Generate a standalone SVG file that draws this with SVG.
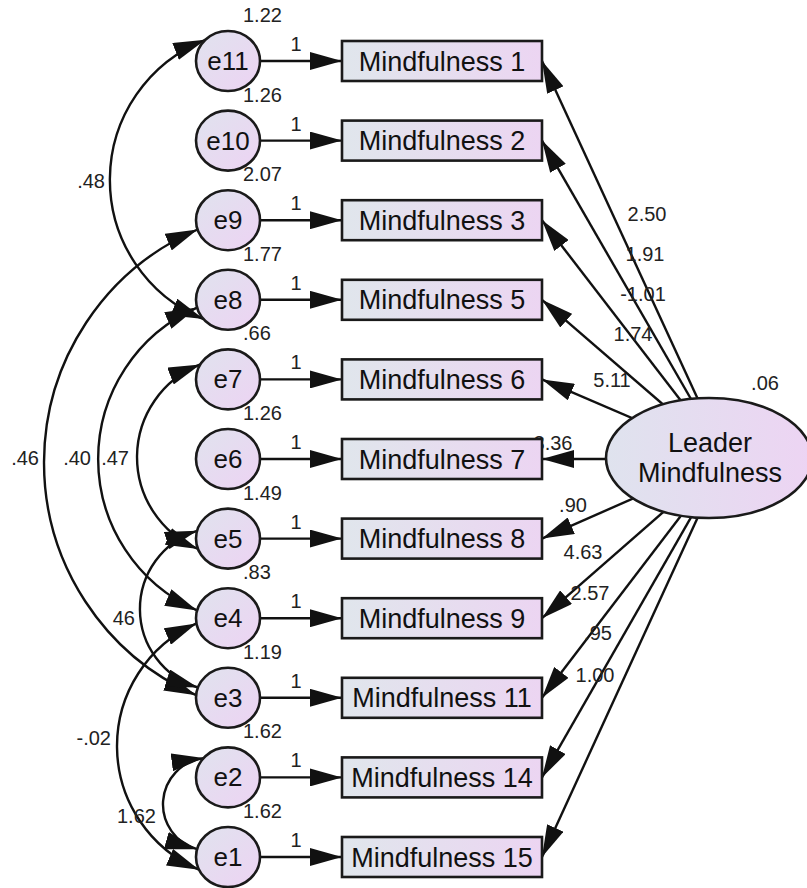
<svg xmlns="http://www.w3.org/2000/svg" width="807" height="888" viewBox="0 0 807 888">
<defs>
<linearGradient id="gr" x1="0" y1="0" x2="1" y2="0">
<stop offset="0" stop-color="#e0e6ec"/><stop offset="1" stop-color="#ecd5f2"/>
</linearGradient>
<linearGradient id="gc" x1="0" y1="0" x2="1" y2="1">
<stop offset="0" stop-color="#e0e3ee"/><stop offset="1" stop-color="#edd3f3"/>
</linearGradient>
<linearGradient id="ge" x1="0" y1="0" x2="1" y2="0">
<stop offset="0" stop-color="#dfe3ee"/><stop offset="1" stop-color="#edd4f3"/>
</linearGradient>
<marker id="ah" markerUnits="userSpaceOnUse" markerWidth="32" markerHeight="18" viewBox="0 0 32 18" refX="32" refY="9" orient="auto-start-reverse">
<path d="M0,0 L32,9 L0,18 Z" fill="#111"/>
</marker>
<style>
.r{fill:url(#gr);stroke:#1a1a1a;stroke-width:2.6}
.e{fill:url(#gc);stroke:#1a1a1a;stroke-width:2.6}
.lv{fill:url(#ge);stroke:#1a1a1a;stroke-width:2.6}
text{font-family:"Liberation Sans",Arial,Helvetica,sans-serif}
.lb{font-size:27px;text-anchor:middle;fill:#111}
.el{font-size:26px;text-anchor:middle;fill:#111}
.nm{font-size:20px;fill:#222}
.mid{text-anchor:middle}
.end{text-anchor:end}
.ln{fill:none;stroke:#111;stroke-width:2.4;marker-end:url(#ah)}
.cv{fill:none;stroke:#111;stroke-width:2.4;marker-start:url(#ah);marker-end:url(#ah)}
</style>
</defs>
<rect width="807" height="888" fill="#ffffff"/>

<g id="connectors">
<!-- error to indicator -->
<path class="ln" d="M260,61 L342,61"/>
<path class="ln" d="M260,140.6 L342,140.6"/>
<path class="ln" d="M260,220.2 L342,220.2"/>
<path class="ln" d="M260,299.8 L342,299.8"/>
<path class="ln" d="M260,379.4 L342,379.4"/>
<path class="ln" d="M260,459 L342,459"/>
<path class="ln" d="M260,538.6 L342,538.6"/>
<path class="ln" d="M260,618.2 L342,618.2"/>
<path class="ln" d="M260,697.8 L342,697.8"/>
<path class="ln" d="M260,777.4 L342,777.4"/>
<path class="ln" d="M260,857 L342,857"/>
<!-- loadings -->
<path class="ln" d="M725,458 L542,61"/>
<path class="ln" d="M725,458 L542,140.6"/>
<path class="ln" d="M725,458 L542,220.2"/>
<path class="ln" d="M725,458 L542,299.8"/>
<path class="ln" d="M725,458 L542,379.4"/>
<path class="ln" d="M725,459 L542,459"/>
<path class="ln" d="M725,458 L542,538.6"/>
<path class="ln" d="M725,458 L542,618.2"/>
<path class="ln" d="M725,458 L542,697.8"/>
<path class="ln" d="M725,458 L542,777.4"/>
<path class="ln" d="M725,458 L542,857"/>
<!-- covariances -->
<path class="cv" d="M205.4,39.8 A150.4,150.4 0 0 0 203.5,319.1"/>
<path class="cv" d="M197.6,229.5 A253.8,253.8 0 0 0 196.1,695.2"/>
<path class="cv" d="M197.1,307.6 A165.3,165.3 0 0 0 197.1,610.4"/>
<path class="cv" d="M200.3,364.4 A99.6,99.6 0 0 0 197.9,548.9"/>
<path class="cv" d="M197.1,530.8 A82.1,82.1 0 0 0 197.9,687.5"/>
<path class="cv" d="M196.5,623.4 A134.3,134.3 0 0 0 199,869.7"/>
<path class="cv" d="M203.5,758.1 A46.6,46.6 0 0 0 197.1,849.2"/>
<!-- labels: error paths -->
<text class="nm mid" x="296" y="51">1</text>
<text class="nm mid" x="296" y="130.6">1</text>
<text class="nm mid" x="296" y="210.2">1</text>
<text class="nm mid" x="296" y="289.8">1</text>
<text class="nm mid" x="296" y="369.4">1</text>
<text class="nm mid" x="296" y="449">1</text>
<text class="nm mid" x="296" y="528.6">1</text>
<text class="nm mid" x="296" y="608.2">1</text>
<text class="nm mid" x="296" y="687.8">1</text>
<text class="nm mid" x="296" y="767.4">1</text>
<text class="nm mid" x="296" y="847">1</text>
<!-- labels: loadings -->
<text class="nm mid" x="647" y="221">2.50</text>
<text class="nm mid" x="645" y="261">1.91</text>
<text class="nm mid" x="643" y="301">-1.01</text>
<text class="nm mid" x="633" y="341">1.74</text>
<text class="nm mid" x="612" y="387">5.11</text>
<text class="nm mid" x="553" y="450">3.36</text>
<text class="nm mid" x="573" y="512">.90</text>
<text class="nm mid" x="583" y="559">4.63</text>
<text class="nm mid" x="590" y="600">2.57</text>
<text class="nm mid" x="598" y="640">.95</text>
<text class="nm mid" x="595" y="682">1.00</text>
<!-- labels: covariances -->
<text class="nm end" x="105" y="188">.48</text>
<text class="nm end" x="39" y="465">.46</text>
<text class="nm end" x="91" y="465">.40</text>
<text class="nm end" x="129" y="465">.47</text>
<text class="nm end" x="135" y="625">46</text>
<text class="nm end" x="111" y="745">-.02</text>
<text class="nm" x="117" y="823">1.62</text>
</g>

<g id="Mindfulness1"><rect class="r" x="342" y="41" width="200" height="40"/><text class="lb" x="442" y="70.5">Mindfulness 1</text></g>
<g id="Mindfulness2"><rect class="r" x="342" y="120.6" width="200" height="40"/><text class="lb" x="442" y="150.1">Mindfulness 2</text></g>
<g id="Mindfulness3"><rect class="r" x="342" y="200.2" width="200" height="40"/><text class="lb" x="442" y="229.7">Mindfulness 3</text></g>
<g id="Mindfulness5"><rect class="r" x="342" y="279.8" width="200" height="40"/><text class="lb" x="442" y="309.3">Mindfulness 5</text></g>
<g id="Mindfulness6"><rect class="r" x="342" y="359.4" width="200" height="40"/><text class="lb" x="442" y="388.9">Mindfulness 6</text></g>
<g id="Mindfulness7"><rect class="r" x="342" y="439" width="200" height="40"/><text class="lb" x="442" y="468.5">Mindfulness 7</text></g>
<g id="Mindfulness8"><rect class="r" x="342" y="518.6" width="200" height="40"/><text class="lb" x="442" y="548.1">Mindfulness 8</text></g>
<g id="Mindfulness9"><rect class="r" x="342" y="598.2" width="200" height="40"/><text class="lb" x="442" y="627.7">Mindfulness 9</text></g>
<g id="Mindfulness11"><rect class="r" x="342" y="677.8" width="200" height="40"/><text class="lb" x="442" y="707.3">Mindfulness 11</text></g>
<g id="Mindfulness14"><rect class="r" x="342" y="757.4" width="200" height="40"/><text class="lb" x="442" y="786.9">Mindfulness 14</text></g>
<g id="Mindfulness15"><rect class="r" x="342" y="837" width="200" height="40"/><text class="lb" x="442" y="866.5">Mindfulness 15</text></g>

<g id="e11"><ellipse class="e" cx="228" cy="61" rx="32" ry="30"/><text class="el" x="228" y="70">e11</text><text class="nm" x="243" y="22">1.22</text></g>
<g id="e10"><ellipse class="e" cx="228" cy="140.6" rx="32" ry="30"/><text class="el" x="228" y="149.6">e10</text><text class="nm" x="243" y="101.6">1.26</text></g>
<g id="e9"><ellipse class="e" cx="228" cy="220.2" rx="32" ry="30"/><text class="el" x="228" y="229.2">e9</text><text class="nm" x="243" y="181.2">2.07</text></g>
<g id="e8"><ellipse class="e" cx="228" cy="299.8" rx="32" ry="30"/><text class="el" x="228" y="308.8">e8</text><text class="nm" x="243" y="260.8">1.77</text></g>
<g id="e7"><ellipse class="e" cx="228" cy="379.4" rx="32" ry="30"/><text class="el" x="228" y="388.4">e7</text><text class="nm" x="243" y="340.4">.66</text></g>
<g id="e6"><ellipse class="e" cx="228" cy="459" rx="32" ry="30"/><text class="el" x="228" y="468">e6</text><text class="nm" x="243" y="420">1.26</text></g>
<g id="e5"><ellipse class="e" cx="228" cy="538.6" rx="32" ry="30"/><text class="el" x="228" y="547.6">e5</text><text class="nm" x="243" y="499.6">1.49</text></g>
<g id="e4"><ellipse class="e" cx="228" cy="618.2" rx="32" ry="30"/><text class="el" x="228" y="627.2">e4</text><text class="nm" x="243" y="579.2">.83</text></g>
<g id="e3"><ellipse class="e" cx="228" cy="697.8" rx="32" ry="30"/><text class="el" x="228" y="706.8">e3</text><text class="nm" x="243" y="658.8">1.19</text></g>
<g id="e2"><ellipse class="e" cx="228" cy="777.4" rx="32" ry="30"/><text class="el" x="228" y="786.4">e2</text><text class="nm" x="243" y="738.4">1.62</text></g>
<g id="e1"><ellipse class="e" cx="228" cy="857" rx="32" ry="30"/><text class="el" x="228" y="866">e1</text><text class="nm" x="243" y="818">1.62</text></g>

<g id="LeaderMindfulness">
<ellipse class="lv" cx="709" cy="458" rx="103" ry="60"/>
<text class="lb" x="710" y="452">Leader</text>
<text class="lb" x="710" y="482">Mindfulness</text>
<text class="nm mid" x="765" y="390">.06</text>
</g>
</svg>
